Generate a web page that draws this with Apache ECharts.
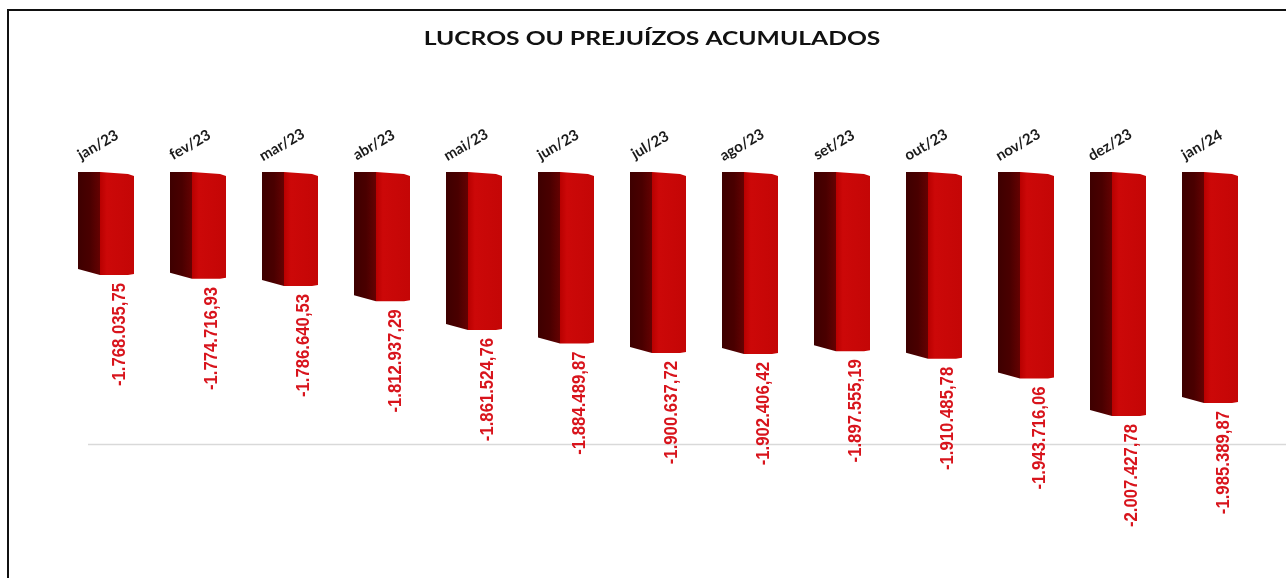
<!DOCTYPE html>
<html>
<head>
<meta charset="utf-8">
<script src="https://cdn.jsdelivr.net/npm/echarts@6/dist/echarts.min.js"></script>
<style>
  html, body { margin: 0; padding: 0; background: #fff; }
  #chart { width: 1286px; height: 578px; }
</style>
</head>
<body>
<div id="chart"></div>
<script>
var months = ["jan/23", "fev/23", "mar/23", "abr/23", "mai/23", "jun/23", "jul/23",
  "ago/23", "set/23", "out/23", "nov/23", "dez/23", "jan/24"];
var values = [-1768035.75, -1774716.93, -1786640.53, -1812937.29, -1861524.76, -1884489.87,
  -1900637.72, -1902406.42, -1897555.19, -1910485.78, -1943716.06, -2007427.78, -1985389.87];
var axisTop = -1595000;
var axisBottom = -2050000;

// 1234567.89 -> -1.234.567,89
function fmtBR(v) {
  var neg = v < 0;
  var parts = Math.abs(v).toFixed(2).split(".");
  var intPart = parts[0].replace(/\B(?=(\d{3})+(?!\d))/g, ".");
  return (neg ? "-" : "") + intPart + "," + parts[1];
}

var chart = echarts.init(document.getElementById("chart"));

function renderBar(params, api) {
  var idx = api.value(0);
  var top = api.coord([idx, axisTop]);
  var bot = api.coord([idx, api.value(1)]);
  var c = top[0];
  var y0 = top[1];
  var y1 = bot[1];
  return {
    type: "group",
    children: [
      {
        type: "polygon",
        shape: { points: [[c - 20, y0], [c + 2, y0], [c + 2, y1 + 1], [c - 20, y1 - 5]] },
        style: {
          fill: new echarts.graphic.LinearGradient(0, 0, 1, 0, [
            { offset: 0, color: "#3e0000" },
            { offset: 0.55, color: "#4a0000" },
            { offset: 1, color: "#650202" }
          ])
        }
      },
      {
        type: "polygon",
        shape: { points: [[c + 2, y0], [c + 30, y0 + 2], [c + 36, y0 + 4], [c + 36, y1], [c + 30, y1 + 1], [c + 2, y1 + 1]] },
        style: {
          fill: new echarts.graphic.LinearGradient(0, 0, 1, 0, [
            { offset: 0, color: "#b80000" },
            { offset: 0.2, color: "#cc0808" },
            { offset: 1, color: "#c40606" }
          ])
        }
      },
      {
        type: "text",
        x: c + 22,
        y: y1 + 9,
        rotation: Math.PI / 2,
        scaleX: 0.88,
        style: {
          text: fmtBR(api.value(1)),
          align: "right",
          verticalAlign: "middle",
          fill: "#d8141c",
          font: "bold 19px 'Liberation Sans Narrow', 'Arial Narrow', sans-serif"
        }
      }
    ]
  };
}

var option = {
  backgroundColor: "#ffffff",
  animation: false,
  grid: { left: 52, right: 38, top: 172, bottom: 578 - 440 },
  xAxis: {
    type: "category",
    position: "top",
    data: months,
    axisLine: { show: false },
    axisTick: { show: false },
    axisLabel: {
      rotate: -30,
      margin: 27,
      align: "center",
      verticalAlign: "middle",
      fontFamily: "Lato",
      fontWeight: "bold",
      fontSize: 15,
      color: "#1a1a1a"
    }
  },
  yAxis: {
    type: "value",
    min: axisBottom,
    max: axisTop,
    show: false
  },
  graphic: [
    {
      type: "text",
      x: 652,
      y: 39,
      scaleX: 1.37,
      style: {
        text: "LUCROS OU PREJUÍZOS ACUMULADOS",
        align: "center",
        verticalAlign: "middle",
        fill: "#111",
        font: "bold 18px Lato"
      }
    },
    { type: "line", shape: { x1: 88, y1: 444.5, x2: 1286, y2: 444.5 }, style: { stroke: "#d9d9d9", lineWidth: 1.5 } },
    { type: "rect", shape: { x: 8, y: 10, width: 1300, height: 600 }, style: { fill: "none", stroke: "#111", lineWidth: 2 } }
  ],
  series: [
    {
      type: "custom",
      renderItem: renderBar,
      data: values.map(function (v, i) { return [i, v]; }),
      encode: { x: 0, y: 1 }
    }
  ]
};

chart.setOption(option);
</script>
</body>
</html>
